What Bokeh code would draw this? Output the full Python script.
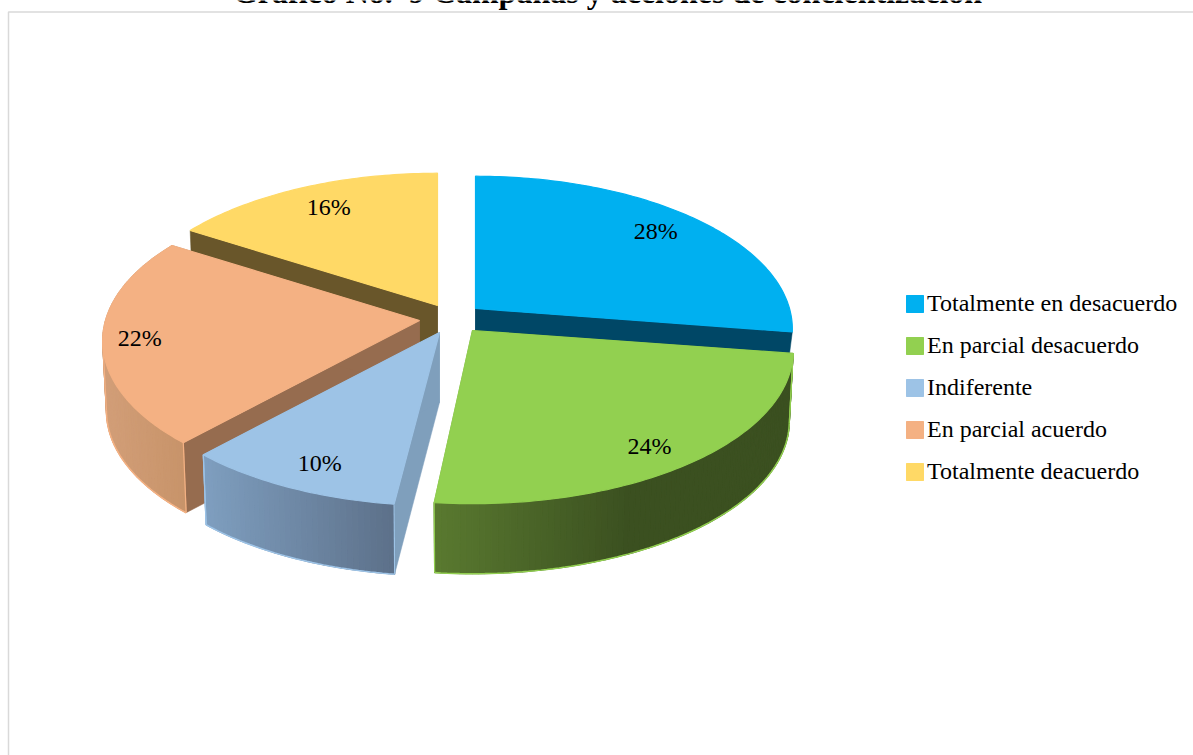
import numpy as np
from bokeh.plotting import figure
from bokeh.embed import file_html
from bokeh.resources import INLINE
from bokeh.models import Range1d, Legend, LegendItem, ColumnDataSource
from bokeh.core.properties import value

title_text = "Gráfico No.\u00a0 9 Campañas y acciones de concientización"
categories = ["Totalmente en desacuerdo", "En parcial desacuerdo", "Indiferente",
              "En parcial acuerdo", "Totalmente deacuerdo"]
values = [28, 24, 10, 22, 16]
colors = ["#00b0f0", "#92d050", "#9dc3e6", "#f4b183", "#ffd966"]
wall_colors = ["#004766", "#4a6b2a", "#7f9fbc", "#966c4f", "#69562a"]
rim_start = ["#004766", "#5a7a30", "#7f9fc0", "#d29e78", "#69562a"]
rim_end = ["#004766", "#3b5020", "#5d718a", "#c8946a", "#69562a"]
apex_x = [475, 472, 439, 419, 437]
apex_y = [308, 330, 332, 320, 305]
start_adj = [0, -2.2, 0, -0.5, 0]
end_adj = [-2, -1.2, -0.5, 0, 0]
radius_scale = [1, 1.012, 1, 1, 1]
label_frac = [0.84, 0.85, 0.80, 0.88, 0.81]
label_nudge_x = [-7, 1, 2, -1, 1]
label_nudge_y = [-4, 0, 7, 1, -3]
wall_depth = [30, 70, 70, 70, 70]
has_rim = [False, True, True, True, False]

RX, RY, PERSP, DEPTH, XSHRINK = 314.0, 150.0, 0.134, 70.0, 0.988


def project(theta_deg):
    t = np.radians(theta_deg)
    X, Y = np.sin(t), np.cos(t)
    d = 1 + PERSP * Y
    return RX * X / d, -RY * Y / d


def mix(a, b, t):
    ca = [int(a[i:i + 2], 16) for i in (1, 3, 5)]
    cb = [int(b[i:i + 2], 16) for i in (1, 3, 5)]
    return "#%02x%02x%02x" % tuple(round(u + (v - u) * t) for u, v in zip(ca, cb))


p = figure(width=1193, height=755, output_backend="svg", toolbar_location=None,
           x_range=Range1d(0, 1193), y_range=Range1d(755, 0),
           x_axis_type=None, y_axis_type=None, min_border=0,
           outline_line_color=None,
           border_fill_color="white", background_fill_color="white")
p.grid.visible = False

p.multi_line(xs=[[8, 8, 1193]], ys=[[755, 11.5, 11.5]], line_color="#d9d9d9", line_width=1.5)

p.text(x=[607], y=[-9], text=[title_text], text_font=value("Liberation Serif"),
       text_font_style="bold", text_font_size="32px", text_align="center",
       text_baseline="alphabetic", text_color="#000000")

edges = np.cumsum([0] + values) * 3.6
items = []
for i in [0, 4, 3, 2, 1]:
    a0 = edges[i] + start_adj[i]
    a1 = edges[i + 1] + end_adj[i]
    th = np.linspace(a0, a1, int(a1 - a0) + 2)
    dx, dy = project(th)
    dx = dx * radius_scale[i]
    ax, ay = apex_x[i], apex_y[i]
    x = ax + dx
    y = ay + dy
    lx = ax + dx * XSHRINK
    ly = y + DEPTH

    # radial walls
    wd = wall_depth[i]
    for j in (0, -1):
        p.patch([ax, x[j], lx[j], ax], [ay, y[j], y[j] + wd, ay + wd],
                fill_color=wall_colors[i], line_color=wall_colors[i], line_width=0.5)

    if has_rim[i]:
        # curved rim, shaded from left to right
        xmin, xmax = x.min(), x.max()
        span = max(xmax - xmin, 1)
        t = np.clip((x - xmin) / span / (0.55 if i == 1 else 1.0), 0, 1)
        rs = ColumnDataSource(dict(
            xs=[[x[k], x[k + 1], lx[k + 1], lx[k]] for k in range(len(x) - 1)],
            ys=[[y[k], y[k + 1], ly[k + 1], ly[k]] for k in range(len(x) - 1)],
            c=[mix(rim_start[i], rim_end[i], float(t[k])) for k in range(len(x) - 1)],
        ))
        p.patches("xs", "ys", source=rs, fill_color="c", line_color="c", line_width=1.2)

        # thin outline round the visible lower edge of the rim
        extreme = int(np.argmin(x)) if dx.mean() < 0 else int(np.argmax(x))
        keep = y >= y[extreme] - 1e-6
        p.line(lx[keep], ly[keep], line_color=colors[i], line_width=1.5)
        for k in (0, extreme, len(x) - 1):
            if keep[k]:
                p.line([x[k], lx[k]], [y[k], ly[k]], line_color=colors[i], line_width=1.2)

    # top face
    r = p.patch(np.r_[ax, x], np.r_[ay, y], fill_color=colors[i], line_color=colors[i],
                line_width=1.2)
    items.append((i, LegendItem(label=categories[i], renderers=[r])))

# data labels on top of everything
lab_x, lab_y, lab_t = [], [], []
for i, v in enumerate(values):
    mx, my = project((edges[i] + edges[i + 1]) / 2)
    lab_x.append(apex_x[i] + label_frac[i] * mx + label_nudge_x[i])
    lab_y.append(apex_y[i] + label_frac[i] * my + label_nudge_y[i])
    lab_t.append(f"{v}%")
p.text(lab_x, lab_y, text=lab_t, text_font=value("Liberation Serif"), text_font_size="24px",
       text_align="center", text_baseline="middle", text_color="#000000")

legend = Legend(items=[it for _, it in sorted(items, key=lambda z: z[0])],
                location=(904, 755 - 485), orientation="vertical",
                background_fill_alpha=0, border_line_color=None, padding=0, margin=0,
                spacing=15, glyph_width=21, glyph_height=21, label_standoff=2,
                label_text_font="Liberation Serif", label_text_font_size="24px",
                label_text_color="#000000")
p.add_layout(legend, "center")

open("out.html", "w").write(file_html(p, INLINE))
